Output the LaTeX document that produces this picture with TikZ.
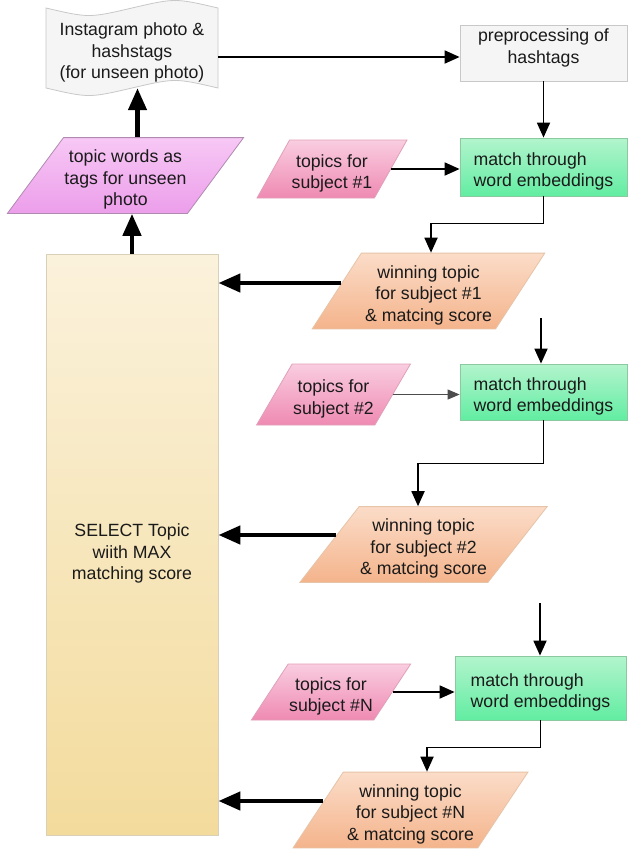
\documentclass[tikz,border=0pt]{standalone}
\usepackage{fontspec}
\setmainfont{Liberation Sans}
\usetikzlibrary{shapes.geometric,arrows.meta,calc}
\definecolor{txt}{HTML}{1A1A1A}
\definecolor{docfill}{HTML}{F5F5F5}
\definecolor{docdraw}{HTML}{C8C8C8}
\definecolor{mtop}{HTML}{B3F4CD}
\definecolor{mbot}{HTML}{62EDA2}
\definecolor{mdraw}{HTML}{8CC8A0}
\definecolor{ptop}{HTML}{F9CDE0}
\definecolor{pbot}{HTML}{EF8AB2}
\definecolor{pdraw}{HTML}{E0A0B8}
\definecolor{wtop}{HTML}{FBDCC8}
\definecolor{wbot}{HTML}{F4B48C}
\definecolor{wdraw}{HTML}{E6C4A8}
\definecolor{vtop}{HTML}{F7C8F5}
\definecolor{vbot}{HTML}{EC9EEA}
\definecolor{vdraw}{HTML}{B08AB0}
\definecolor{stop}{HTML}{FBF2DC}
\definecolor{smid}{HTML}{F5E1A8}
\definecolor{sbot}{HTML}{F3DB9C}
\definecolor{sdraw}{HTML}{D8D0B8}
\newcommand{\padbelow}[2]{\raisebox{0pt}[\height][\dimexpr\depth+#1\relax]{#2}}
\newcommand{\padabove}[2]{\raisebox{0pt}[\dimexpr\height+#1\relax][\depth]{#2}}
\newcommand{\cbox}[2][9pt]{\padabove{#1}{\begin{tabular}{@{}c@{}}#2\end{tabular}}}
\newcommand{\lbox}[2][9pt]{\padabove{#1}{\begin{tabular}{@{}l@{}}#2\end{tabular}}}
\begin{document}
\begin{tikzpicture}[x=1pt,y=-1pt,
  every node/.style={font=\fontsize{17.7pt}{21.6pt}\selectfont, text=txt},
  greybox/.style={rectangle, draw=docdraw, fill=docfill, line width=0.8pt, inner sep=0pt},
  matchbox/.style={rectangle, draw=mdraw, top color=mtop, bottom color=mbot, line width=0.8pt, inner sep=0pt},
  selbox/.style={rectangle, draw=sdraw, top color=stop, middle color=smid, bottom color=sbot, line width=0.8pt, inner sep=0pt},
  paral/.style={trapezium, trapezium stretches=true, line width=0.8pt, inner sep=1pt},
  topicp/.style={paral, draw=pdraw, top color=ptop, bottom color=pbot},
  winp/.style={paral, draw=wdraw, top color=wtop, bottom color=wbot},
  tagp/.style={paral, draw=vdraw, top color=vtop, bottom color=vbot},
  flow/.style={draw=black, line width=1.8pt, -{Triangle[length=15pt,width=13pt]}},
  faint/.style={draw=black!70, line width=1pt, -{Triangle[length=12pt,width=10pt]}},
  heavy/.style={draw=black, line width=4.5pt, -{Triangle[length=22pt,width=18pt]}}
]
\useasboundingbox (0,0) rectangle (628,849);
\fill[white] (0,0) rectangle (628,849);

% document (tape) shape
\filldraw[fill=docfill, draw=docdraw, line width=0.8pt]
  (46,8) .. controls (89,18) .. (132,8) .. controls (175,-2) .. (218,8)
  -- (218,88) .. controls (175,78) .. (132,88) .. controls (89,98) .. (46,88) -- cycle;
\node[rectangle, inner sep=0pt, minimum width=172pt, minimum height=80pt] (doc) at (132,48)
  {\cbox[10pt]{Instagram photo \&\\hashstags\\(for unseen photo)}};

\node[greybox, minimum width=167pt, minimum height=56pt] (pre) at (543.5,53)
  {\padbelow{10pt}{\begin{tabular}{@{}c@{}}preprocessing of\\hashtags\end{tabular}}};

\node[matchbox, minimum width=167pt, minimum height=58pt] (m1) at (543.5,167) {\lbox{match through\\word embeddings}};
\node[matchbox, minimum width=167pt, minimum height=56pt] (m2) at (543.5,392) {\lbox{match through\\word embeddings}};
\node[matchbox, minimum width=171pt, minimum height=64pt] (m3) at (540.5,688) {\lbox{match through\\word embeddings}};

\node[topicp, minimum width=150pt, minimum height=58pt, trapezium left angle=59.6, trapezium right angle=120.4] (t1) at (332,169) {\cbox{topics for\\subject \#1}};
\node[topicp, minimum width=151pt, minimum height=61pt, trapezium left angle=56.7, trapezium right angle=123.3] (t2) at (333.5,394.5) {\cbox{topics for\\subject \#2}};
\node[topicp, minimum width=152pt, minimum height=56pt, trapezium left angle=55.8, trapezium right angle=124.2] (t3) at (331,692) {\cbox{topics for\\subject \#N}};

\node[winp, minimum width=233pt, minimum height=74pt, trapezium left angle=58.1, trapezium right angle=121.9] (w1) at (428.5,291) {\cbox{winning topic\\for subject \#1\\\& matcing score}};
\node[winp, minimum width=235pt, minimum height=73pt, trapezium left angle=52, trapezium right angle=128] (w2) at (423.5,544.5) {\cbox{winning topic\\for subject \#2\\\& matcing score}};
\node[winp, minimum width=235pt, minimum height=74pt, trapezium left angle=57.6, trapezium right angle=122.4] (w3) at (410.5,810) {\cbox{winning topic\\for subject \#N\\\& matcing score}};

\node[tagp, minimum width=235pt, minimum height=73pt, trapezium left angle=53.5, trapezium right angle=126.5] (tw) at (125.5,175.5) {\cbox{topic words as\\tags for unseen\\photo}};

\node[selbox, minimum width=172pt, minimum height=581pt] (sel) at (132,544.5)
  {\cbox[19pt]{SELECT Topic\\wiith MAX\\matching score}};

% connectors
\draw[flow] ([yshift=-9pt]doc.east) -- ([yshift=-9pt]doc.east -| pre.west);
\draw[flow] (pre.south) -- (m1.north);
\draw[flow] (t1.east) -- (t1.east -| m1.west);
\draw[flow] (m1.south) -- ++(0,27) -| ([xshift=2.5pt]w1.north);
\coordinate (w1o) at ($(w1.west)+(5,-8)$);
\draw[heavy] (w1o) -- (w1o -| sel.east);

\coordinate (s2) at (541,318);
\draw[flow] (s2) -- (s2 |- m2.north);
\draw[faint] (t2.east) -- (t2.east -| m2.west);
\draw[flow] (m2.south) -- ++(0,43) -| ([xshift=-5.5pt]w2.north);
\coordinate (w2o) at ($(w2.west)+(7.4,-9.5)$);
\draw[heavy] (w2o) -- (w2o -| sel.east);

\coordinate (s3) at (540,603);
\draw[flow] (s3) -- (s3 |- m3.north);
\draw[flow] (t3.east) -- (t3.east -| m3.west);
\draw[flow] (m3.south) -- ++(0,27) -| ([xshift=16.5pt]w3.north);
\coordinate (w3o) at ($(w3.west)+(5.7,-9)$);
\draw[heavy] (w3o) -- (w3o -| sel.east);

\draw[heavy] (sel.north) -- (sel.north |- tw.south);
\draw[heavy] ([xshift=12pt]tw.north) -- ([xshift=12pt]tw.north |- doc.south);
\end{tikzpicture}
\end{document}
